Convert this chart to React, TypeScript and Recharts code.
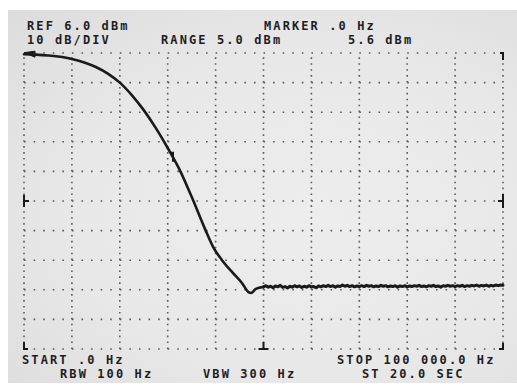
import React from 'react';
import { LineChart, Line, XAxis, YAxis, ReferenceLine, ReferenceDot } from 'recharts';

// Frequency (Hz) and level (dBm): roll-off part
const curveHz = [
  0, 2500, 5000, 10000, 15000, 17500, 20000, 22500, 25000, 27500, 30000, 32500, 35000,
  37800, 39500, 41300, 43600, 45500, 46800, 47400, 48400, 50000,
];
const curveDbm = [
  5.6, 5.46, 5.16, 4.0, 1.27, -0.96, -4.0, -8.2, -13.3, -19.3, -26.1, -33.5, -42.6,
  -53.5, -59.6, -63.9, -68.3, -71.7, -74.7, -75.1, -73.7, -73.0,
];
// noise floor part, every 500 Hz from 50 kHz to 100 kHz
const floorHz = [
  50000, 50500, 51000, 51500, 52000, 52500, 53000, 53500, 54000, 54500,
  55000, 55500, 56000, 56500, 57000, 57500, 58000, 58500, 59000, 59500,
  60000, 60500, 61000, 61500, 62000, 62500, 63000, 63500, 64000, 64500,
  65000, 65500, 66000, 66500, 67000, 67500, 68000, 68500, 69000, 69500,
  70000, 70500, 71000, 71500, 72000, 72500, 73000, 73500, 74000, 74500,
  75000, 75500, 76000, 76500, 77000, 77500, 78000, 78500, 79000, 79500,
  80000, 80500, 81000, 81500, 82000, 82500, 83000, 83500, 84000, 84500,
  85000, 85500, 86000, 86500, 87000, 87500, 88000, 88500, 89000, 89500,
  90000, 90500, 91000, 91500, 92000, 92500, 93000, 93500, 94000, 94500,
  95000, 95500, 96000, 96500, 97000, 97500, 98000, 98500, 99000, 99500,
  100000,
];
const floorDbm = [
  -73.0, -72.6, -73.1, -72.8, -73.3, -72.7, -73.0, -72.5, -73.2, -72.9,
  -73.4, -72.8, -73.1, -72.6, -73.0, -72.7, -73.2, -72.8, -73.1, -72.6,
  -73.0, -72.9, -73.3, -72.7, -73.0, -72.6, -72.9, -72.5, -72.9, -72.6,
  -73.1, -72.7, -72.9, -72.4, -72.8, -72.5, -72.9, -72.6, -73.0, -72.7,
  -72.9, -72.6, -72.9, -72.5, -72.8, -72.6, -73.0, -72.7, -72.9, -72.5,
  -72.8, -72.6, -73.0, -72.7, -72.9, -72.6, -73.1, -72.7, -72.9, -72.6,
  -73.0, -72.7, -72.9, -72.6, -72.8, -72.5, -72.9, -72.7, -73.0, -72.6,
  -72.8, -72.5, -72.9, -72.7, -73.1, -72.6, -72.8, -72.5, -72.8, -72.6,
  -72.9, -72.6, -72.8, -72.5, -72.9, -72.6, -72.8, -72.5, -72.7, -72.4,
  -72.8, -72.5, -72.7, -72.4, -72.8, -72.5, -72.7, -72.4, -72.6, -72.4,
  -72.5,
];

const xTicks = [0, 10000, 20000, 30000, 40000, 50000, 60000, 70000, 80000, 90000, 100000];
const yTicks = [-94, -84, -74, -64, -54, -44, -34, -24, -14, -4, 6];

const topLeftLines = ['REF 6.0 dBm', '10 dB/DIV'];
const headerTexts = ['RANGE 5.0 dBm', 'MARKER .0 Hz', '5.6 dBm'];
const footerTexts = ['START .0 Hz', 'RBW 100 Hz', 'VBW 300 Hz', 'STOP 100 000.0 Hz', 'ST 20.0 SEC'];

const markerPoint = { f: 0, db: 5.6 };
const hookPoint = { f: 30900, db: -28.0 };

const curveData = curveHz.map((f, i) => ({ f, db: curveDbm[i] }));
const floorData = floorHz.map((f, i) => ({ f, db: floorDbm[i] }));

const INK = '#1a1a1a';
const GRID = '#5a5a5a';

const mk = (d: string) => (props: any) => {
  const { cx, cy } = props;
  if (cx == null || cy == null) return <g />;
  return (
    <path
      d={d
        .replace(/X([-+]?\d+(\.\d+)?)/g, (_m, n) => String(cx + parseFloat(n)))
        .replace(/Y([-+]?\d+(\.\d+)?)/g, (_m, n) => String(cy + parseFloat(n)))}
      stroke={INK}
      strokeWidth={2}
      fill="none"
    />
  );
};

const arrowShape = (props: any) => {
  const { cx, cy } = props;
  if (cx == null || cy == null) return <g />;
  return <path d={`M${cx},${cy - 1.5} L${cx + 11},${cy - 3} L${cx + 11},${cy + 3} Z`} fill={INK} stroke={INK} strokeWidth={1} />;
};

const textStyle: React.CSSProperties = {
  fontFamily: '"DejaVu Sans Mono", monospace',
  fontWeight: 700,
  fontSize: 12,
  letterSpacing: 2.1,
};

export default function App() {
  return (
    <div style={{ position: 'absolute', left: 0, top: 0, width: 517, height: 387, background: '#ffffff', overflow: 'hidden' }}>
      <div
        style={{
          position: 'absolute',
          left: 8,
          top: 10,
          width: 509,
          height: 373,
          background: 'radial-gradient(ellipse at 60% 55%, #ededed 0%, #e8e8e8 55%, #dcdcdc 100%)',
        }}
      />
      <div style={{ position: 'absolute', left: 0, top: 0 }}>
        <LineChart width={517} height={387} margin={{ left: 24, top: 53, right: 14, bottom: 38 }}>
          <XAxis dataKey="f" type="number" domain={[0, 100000]} ticks={xTicks} height={0} tick={false} axisLine={false} tickLine={false} allowDuplicatedCategory={false} />
          <YAxis type="number" domain={[-94, 6]} ticks={yTicks} width={0} tick={false} axisLine={false} tickLine={false} />
          {yTicks.map((v) => (
            <ReferenceLine key={'h' + v} y={v} stroke={GRID} strokeWidth={1.6} strokeDasharray="1.6 7.98" ifOverflow="visible" />
          ))}
          {xTicks.map((v) => (
            <ReferenceLine key={'v' + v} x={v} stroke={GRID} strokeWidth={1.6} strokeDasharray="1.6 4.32" ifOverflow="visible" />
          ))}
          <Line
            data={curveData}
            dataKey="db"
            type="monotone"
            stroke={INK}
            strokeWidth={2.6}
            dot={false}
            isAnimationActive={false}
            strokeLinejoin="round"
            strokeLinecap="round"
          />
          <Line
            data={floorData}
            dataKey="db"
            type="linear"
            stroke={INK}
            strokeWidth={3}
            dot={false}
            isAnimationActive={false}
            strokeLinejoin="round"
            strokeLinecap="round"
          />
          <ReferenceDot x={100000} y={6} ifOverflow="visible" shape={mk('MX-3,Y0 LX0,Y0 LX0,Y7')} />
          <ReferenceDot x={0} y={-94} ifOverflow="visible" shape={mk('MX0,Y-7 LX0,Y0 LX4,Y0')} />
          <ReferenceDot x={100000} y={-94} ifOverflow="visible" shape={mk('MX0,Y-6 LX0,Y0 LX-4,Y0')} />
          <ReferenceDot x={50000} y={-94} ifOverflow="visible" shape={mk('MX0,Y-7 LX0,Y0 MX-5,Y0 LX5,Y0')} />
          <ReferenceDot x={0} y={-44} ifOverflow="visible" shape={mk('MX0,Y-6 LX0,Y6 MX0,Y0 LX5,Y0')} />
          <ReferenceDot x={100000} y={-44} ifOverflow="visible" shape={mk('MX0,Y-7 LX0,Y7 MX0,Y0 LX-5,Y0')} />
          <ReferenceDot x={hookPoint.f} y={hookPoint.db} ifOverflow="visible" shape={mk('MX-2,Y-1 LX1,Y-1 LX1,Y8')} />
          <ReferenceDot x={markerPoint.f} y={markerPoint.db} ifOverflow="visible" shape={arrowShape} />
        </LineChart>
      </div>
      <svg width={517} height={387} style={{ position: 'absolute', left: 0, top: 0, pointerEvents: 'none' }}>
        <g fill="#1e1e1e" style={textStyle}>
          <text x={27} y={29.5}>{topLeftLines[0]}</text>
          <text x={27} y={43.5}>{topLeftLines[1]}</text>
          <text x={161} y={43.5}>{headerTexts[0]}</text>
          <text x={264} y={29.5}>{headerTexts[1]}</text>
          <text x={348} y={43.5}>{headerTexts[2]}</text>
          <text x={22} y={363.5}>{footerTexts[0]}</text>
          <text x={60} y={378}>{footerTexts[1]}</text>
          <text x={203} y={378}>{footerTexts[2]}</text>
          <text x={337} y={363.5}>{footerTexts[3]}</text>
          <text x={362} y={378}>{footerTexts[4]}</text>
        </g>
      </svg>
    </div>
  );
}
